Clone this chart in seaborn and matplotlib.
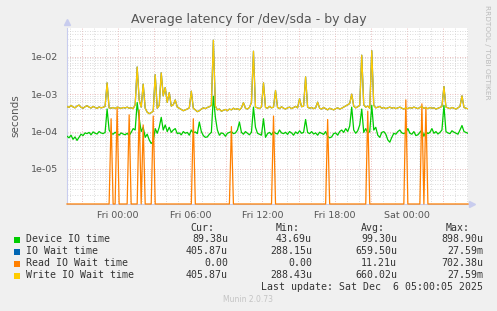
import numpy as np
import pandas as pd
import matplotlib
matplotlib.use("Agg")
import matplotlib.pyplot as plt
import matplotlib.dates as mdates
import matplotlib.ticker as mticker
import seaborn as sns

# ---------------- data (10-minute samples, microseconds) ----------------
times = pd.date_range("2025-12-04 19:45", periods=201, freq="10min")

device_us = [
    75, 68, 80, 62, 72, 58, 70, 85, 78, 92,
    88, 95, 82, 98, 90, 86, 100, 92, 88, 95,
    400, 110, 90, 85, 96, 88, 80, 92, 86, 82,
    90, 78, 95, 120, 110, 600, 220, 100, 130, 70,
    85, 60, 48, 55, 120, 90, 130, 240, 110, 150,
    100, 130, 95, 110, 120, 88, 92, 82, 100, 90,
    95, 80, 110, 92, 98, 88, 180, 100, 78, 70,
    72, 85, 95, 880, 240, 110, 80, 92, 88, 75,
    90, 95, 100, 88, 92, 110, 180, 95, 85, 100,
    90, 82, 96, 450, 130, 90, 85, 80, 220, 70,
    88, 95, 82, 100, 90, 86, 110, 92, 88, 96,
    84, 100, 92, 80, 98, 88, 105, 90, 95, 210,
    95, 88, 100, 86, 92, 80, 96, 90, 84, 100,
    75, 68, 72, 88, 92, 80, 100, 110, 95, 120,
    100, 140, 450, 110, 90, 105, 150, 400, 95, 120,
    90, 100, 500, 110, 130, 80, 70, 95, 100, 85,
    60, 52, 70, 90, 85, 100, 110, 92, 88, 95,
    120, 90, 85, 100, 78, 82, 95, 110, 75, 100,
    88, 95, 120, 90, 100, 86, 95, 110, 500, 100,
    92, 88, 105, 96, 90, 85, 110, 145, 100, 95,
    89.38,
]

write_us = [
    470, 440, 500, 455, 430, 480, 510, 445, 420, 460,
    490, 450, 425, 470, 440, 415, 455, 430, 445, 470,
    2000, 430, 420, 440, 410, 450, 430, 415, 440, 425,
    450, 420, 435, 410, 520, 5300, 700, 450, 1850, 420,
    330, 300, 320, 350, 3300, 420, 500, 3700, 900, 1500,
    600, 1100, 480, 520, 700, 450, 420, 390, 360, 380,
    400, 430, 1200, 420, 380, 340, 360, 400, 430, 410,
    440, 460, 500, 27590, 480, 380, 400, 350, 370, 390,
    360, 400, 380, 420, 390, 410, 380, 430, 590, 420,
    400, 440, 600, 14000, 450, 430, 410, 460, 2000, 440,
    420, 470, 430, 450, 1250, 440, 410, 460, 420, 400,
    430, 450, 410, 440, 470, 430, 750, 460, 480, 2900,
    450, 420, 440, 410, 430, 610, 420, 400, 440, 410,
    380, 420, 400, 380, 410, 430, 400, 420, 450, 480,
    520, 560, 1000, 480, 430, 460, 500, 11000, 520, 450,
    480, 420, 14500, 500, 430, 450, 470, 420, 440, 410,
    430, 450, 420, 440, 410, 430, 450, 420, 400, 430,
    410, 440, 420, 450, 430, 410, 440, 460, 420, 430,
    410, 440, 420, 430, 400, 420, 440, 470, 1600, 450,
    430, 410, 440, 420, 400, 430, 470, 900, 440, 420,
    405.87,
]

io_wait_us = list(write_us)

# Read IO wait is zero except these samples
read_spike_idx = [22, 25, 31, 36, 38, 43, 63, 82, 103, 130, 150, 169, 177, 179]
read_spike_us = [220, 420, 280, 380, 150, 260, 220, 136, 260, 210, 350, 702.38, 550, 450]

legend_names = ["Device IO time", "IO Wait time", "Read IO Wait time", "Write IO Wait time"]
legend_colors = ["#00CC00", "#0066B3", "#FF8000", "#FFCC00"]
cur_vals = ["89.38u", "405.87u", "0.00", "405.87u"]
min_vals = ["43.69u", "288.15u", "0.00", "288.43u"]
avg_vals = ["99.30u", "659.50u", "11.21u", "660.02u"]
max_vals = ["898.90u", "27.59m", "702.38u", "27.59m"]

# ---------------- figure ----------------
W, H = 497, 311
YMIN, YMAX = 1.16e-6, 5.85e-2
fig = plt.figure(figsize=(W / 100, H / 100), dpi=100, facecolor="#F0F0F0")
ax = fig.add_axes([67 / W, 1 - 204 / H, (468 - 67) / W, (204 - 28) / H])
ax.set_facecolor("white")

read_us = np.zeros(len(times))
read_us[read_spike_idx] = read_spike_us

series = {
    "Device IO time": np.array(device_us) * 1e-6,
    "IO Wait time": np.array(io_wait_us) * 1e-6,
    "Read IO Wait time": np.where(read_us > 0, read_us * 1e-6, YMIN),
    "Write IO Wait time": np.array(write_us) * 1e-6,
}
for name, col in zip(legend_names, legend_colors):
    sns.lineplot(x=times, y=series[name], ax=ax, color=col, lw=0.9, legend=False)
    line = ax.lines[-1]
    line.set_zorder(3)
    if name == "Read IO Wait time":
        line.set_clip_on(False)

ax.set_yscale("log")
ax.set_ylim(YMIN, YMAX)
ax.set_xlim(times[0], times[-1])

ax.yaxis.set_major_locator(mticker.LogLocator(base=10))
ax.yaxis.set_minor_locator(mticker.LogLocator(base=10, subs=range(2, 10)))
ax.yaxis.set_major_formatter(mticker.FuncFormatter(lambda v, p: f"{v:.0e}"))
ax.yaxis.set_minor_formatter(mticker.NullFormatter())

ax.xaxis.set_major_locator(mdates.HourLocator(byhour=range(0, 24, 3)))
ax.xaxis.set_minor_locator(mdates.HourLocator())
ax.xaxis.set_major_formatter(
    mticker.FuncFormatter(
        lambda v, p: mdates.num2date(v).strftime("%a %H:%M")
        if mdates.num2date(v).hour % 6 == 0 else ""
    )
)

ax.set_axisbelow(True)
ax.grid(which="minor", color="#D0D0D0", ls=(0, (1, 2)), lw=0.6)
ax.grid(which="major", color="#E4A8A8", ls=(0, (1, 2)), lw=0.6)

for s in ["top", "right"]:
    ax.spines[s].set_visible(False)
for s in ["left", "bottom"]:
    ax.spines[s].set_color("#C8CCEE")
    ax.spines[s].set_linewidth(0.8)
    ax.spines[s].set_zorder(2)
ax.tick_params(axis="both", which="both", length=0, colors="#555555", labelsize=6.8)
ax.tick_params(axis="y", pad=6)
ax.tick_params(axis="x", pad=5)
ax.set_xlabel("")
ax.set_ylabel("seconds", fontsize=7.5, color="#555555", labelpad=8)

# axis arrows
ax.plot([0], [1.035], marker="^", color="#C8CCEE", ms=4, transform=ax.transAxes, clip_on=False)
ax.plot([1.01], [0], marker=">", color="#C8CCEE", ms=4, transform=ax.transAxes, clip_on=False)

# title & side texts
fig.text(0.5, 1 - 19 / H, "Average latency for /dev/sda - by day", ha="center", va="center",
         fontsize=9, color="#555555")
fig.text(487 / W, 1 - 52 / H, "RRDTOOL / TOBI OETIKER", rotation=270, ha="center", va="center",
         fontsize=5.3, color="#BBBBBB")

# legend block
mono = "DejaVu Sans Mono"
fs = 7.1
tc = "#333333"
def fy(y):
    return 1 - y / H

for x, txt in zip([202, 288, 373, 458], ["Cur:", "Min:", "Avg:", "Max:"]):
    fig.text(x / W, fy(227.7), txt, ha="center", va="center", family=mono, fontsize=fs, color=tc)
rows_y = [239.5, 251.5, 263.5, 275.5]
for i, name in enumerate(legend_names):
    y = rows_y[i]
    fig.patches.append(plt.Rectangle(((14) / W, fy(y + 3.5)), 6 / W, 6 / H, transform=fig.transFigure,
                                     facecolor=legend_colors[i], edgecolor="none"))
    fig.text(26 / W, fy(y), name, ha="left", va="center", family=mono, fontsize=fs, color=tc)
    for xr, vals in zip([228, 312, 397, 483], [cur_vals, min_vals, avg_vals, max_vals]):
        fig.text(xr / W, fy(y), vals[i], ha="right", va="center", family=mono, fontsize=fs, color=tc)
fig.text(483 / W, fy(287.5), "Last update: Sat Dec  6 05:00:05 2025", ha="right", va="center",
         family=mono, fontsize=fs, color=tc)
fig.text(248 / W, fy(300), "Munin 2.0.73", ha="center", va="center", fontsize=5.5, color="#C4C4C4")

fig.savefig("out.png", dpi=100, facecolor=fig.get_facecolor())
